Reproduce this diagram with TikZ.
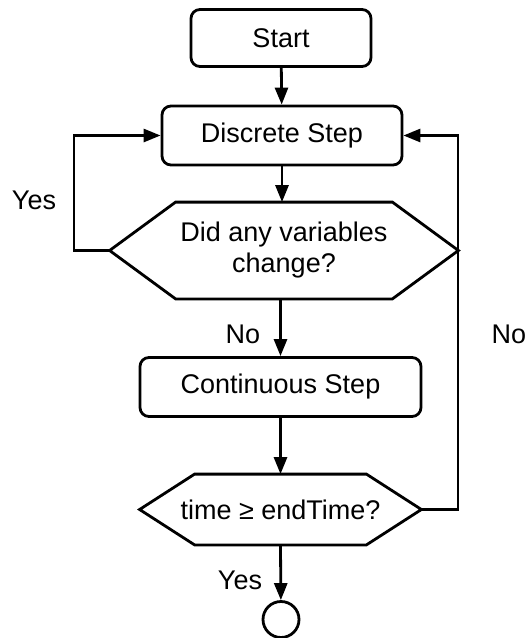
\documentclass[tikz,border=0pt]{standalone}
\usepackage{fontspec}
\setmainfont{Liberation Sans}
\usetikzlibrary{arrows.meta}

\begin{document}
\begin{tikzpicture}[x=1pt, y=-1pt, line width=2.8pt,
    font=\fontsize{27}{31}\selectfont,
    flowbox/.style={draw, rounded corners=9pt, inner sep=0pt, align=center},
    testbox/.style={inner sep=0pt, align=center},
    flowarrow/.style={-{Triangle[length=17pt, width=13pt]}}]
  \useasboundingbox (0,0) rectangle (529,638);
  \node[flowbox, minimum width=180pt, minimum height=57pt] (start) at (281,38) {Start};
  \node[flowbox, minimum width=240pt, minimum height=59pt] (discrete) at (282,135.5) {Discrete Step};
  \node[testbox, minimum width=346pt, minimum height=94pt] (change) at (284,250.5) {Did any variables\\change?};
  \draw (change.west) -- ([xshift=66pt]change.north west) -- ([xshift=-66pt]change.north east)
    -- (change.east) -- ([xshift=-66pt]change.south east) -- ([xshift=66pt]change.south west) -- cycle;
  \node[flowbox, minimum width=281pt, minimum height=59pt] (continuous) at (280.5,387) {Continuous Step};
  \node[testbox, minimum width=279pt, minimum height=68pt] (endtest) at (280.5,509.5) {time ≥ endTime?};
  \draw (endtest.west) -- ([xshift=55pt]endtest.north west) -- ([xshift=-55pt]endtest.north east)
    -- (endtest.east) -- ([xshift=-55pt]endtest.south east) -- ([xshift=55pt]endtest.south west) -- cycle;
  \node[draw, circle, minimum size=36pt, inner sep=0pt] (stop) at (281,619.5) {};

  % labels
  \node (yesloop) at (34,200) {Yes};
  \node (nochange) at (243,334) {No};
  \node (noloop) at (509,334) {No};
  \node (yesdone) at (240,580) {Yes};

  \coordinate (leftturn) at (74,250.5);
  \coordinate (rightturn) at (458,509.5);
  \draw[flowarrow] (start) -- (discrete);
  \draw[flowarrow] (discrete) -- (discrete |- change.north);
  \draw[flowarrow] (change.west) -- (leftturn) |- (discrete.west);
  \draw[flowarrow] (continuous.north |- change.south) -- (continuous.north);
  \draw[flowarrow] (continuous) -- (endtest.north);
  \draw[flowarrow] (endtest.east) -- (rightturn) |- (discrete.east);
  \draw[flowarrow] (endtest.south) -- (stop);
\end{tikzpicture}
\end{document}
